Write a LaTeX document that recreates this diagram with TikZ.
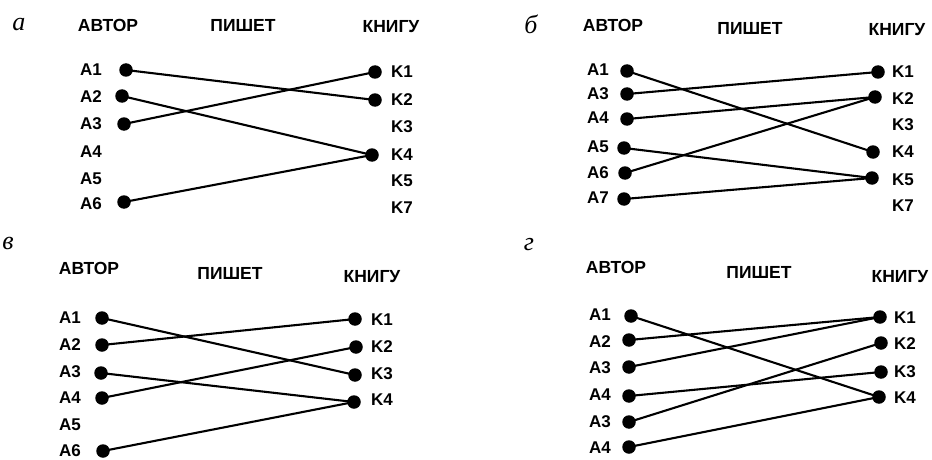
\documentclass[tikz,border=0pt]{standalone}
\usepackage{fontspec}
\setmainfont{Liberation Sans}
\newfontfamily\tms{Liberation Serif}
\begin{document}
\begin{tikzpicture}[x=1pt,y=-1pt,
  dot/.style={circle,fill=black,inner sep=0pt,minimum size=13.5pt},
  link/.style={line width=2.1pt},
  lbl/.style={font=\fontsize{17}{17}\selectfont\bfseries,inner sep=0pt},
  hdr/.style={font=\fontsize{17.5}{17.5}\selectfont\bfseries,inner sep=0pt},
  tag/.style={font=\fontsize{26}{26}\selectfont\tms\itshape,inner sep=0pt}]
\useasboundingbox (0,0) rectangle (932,460);
% ---------- panel a ----------
\node[tag] (ta) at (19,25) {а};
\node[hdr] (ha1) at (108,25) {АВТОР};
\node[hdr] (ha2) at (243,25) {ПИШЕТ};
\node[hdr] (ha3) at (391,27) {КНИГУ};
\node[lbl] (laa1) at (91,70) {A1};
\node[lbl] (laa2) at (91,97) {A2};
\node[lbl] (laa3) at (91,124) {A3};
\node[lbl] (laa4) at (91,152) {A4};
\node[lbl] (laa5) at (91,179) {A5};
\node[lbl] (laa6) at (91,204) {A6};
\node[lbl] (lak1) at (402,72) {K1};
\node[lbl] (lak2) at (402,100) {K2};
\node[lbl] (lak3) at (402,127) {K3};
\node[lbl] (lak4) at (402,155) {K4};
\node[lbl] (lak5) at (402,181) {K5};
\node[lbl] (lak7) at (402,208) {K7};
\node[dot] (aa1) at (126,70) {};
\node[dot] (aa2) at (122,96) {};
\node[dot] (aa3) at (124,124) {};
\node[dot] (aa6) at (124,202) {};
\node[dot] (ak1) at (375,72) {};
\node[dot] (ak2) at (375,100) {};
\node[dot] (ak4) at (372,155) {};
\draw[link] (aa1.center) -- (ak2.center);
\draw[link] (aa2.center) -- (ak4.center);
\draw[link] (aa3.center) -- (ak1.center);
\draw[link] (aa6.center) -- (ak4.center);
% ---------- panel b ----------
\node[tag] (tb) at (531,24) {б};
\node[hdr] (hb1) at (613,25) {АВТОР};
\node[hdr] (hb2) at (750,28) {ПИШЕТ};
\node[hdr] (hb3) at (897,30) {КНИГУ};
\node[lbl] (lba1) at (598,70) {A1};
\node[lbl] (lba3) at (598,94) {A3};
\node[lbl] (lba4) at (598,118) {A4};
\node[lbl] (lba5) at (598,147) {A5};
\node[lbl] (lba6) at (598,173) {A6};
\node[lbl] (lba7) at (598,198) {A7};
\node[lbl] (lbk1) at (903,72) {K1};
\node[lbl] (lbk2) at (903,99) {K2};
\node[lbl] (lbk3) at (903,125) {K3};
\node[lbl] (lbk4) at (903,152) {K4};
\node[lbl] (lbk5) at (903,180) {K5};
\node[lbl] (lbk7) at (903,206) {K7};
\node[dot] (ba1) at (627,71) {};
\node[dot] (ba3) at (627,94) {};
\node[dot] (ba4) at (627,119) {};
\node[dot] (ba5) at (624,148) {};
\node[dot] (ba6) at (625,173) {};
\node[dot] (ba7) at (624,199) {};
\node[dot] (bk1) at (878,72) {};
\node[dot] (bk2) at (875,97) {};
\node[dot] (bk4) at (873,152) {};
\node[dot] (bk5) at (872,178) {};
\draw[link] (ba1.center) -- (bk4.center);
\draw[link] (ba3.center) -- (bk1.center);
\draw[link] (ba4.center) -- (bk2.center);
\draw[link] (ba5.center) -- (bk5.center);
\draw[link] (ba6.center) -- (bk2.center);
\draw[link] (ba7.center) -- (bk5.center);
% ---------- panel v ----------
\node[tag] (tc) at (8,243) {в};
\node[hdr] (hc1) at (89,268) {АВТОР};
\node[hdr] (hc2) at (230,273) {ПИШЕТ};
\node[hdr] (hc3) at (372,277) {КНИГУ};
\node[lbl] (lca1) at (70,318) {A1};
\node[lbl] (lca2) at (70,345) {A2};
\node[lbl] (lca3) at (70,372) {A3};
\node[lbl] (lca4) at (70,398) {A4};
\node[lbl] (lca5) at (70,425) {A5};
\node[lbl] (lca6) at (70,451) {A6};
\node[lbl] (lck1) at (382,320) {K1};
\node[lbl] (lck2) at (382,347) {K2};
\node[lbl] (lck3) at (382,374) {K3};
\node[lbl] (lck4) at (382,400) {K4};
\node[dot] (ca1) at (102,318) {};
\node[dot] (ca2) at (102,345) {};
\node[dot] (ca3) at (101,373) {};
\node[dot] (ca4) at (102,398) {};
\node[dot] (ca6) at (103,451) {};
\node[dot] (ck1) at (355,319) {};
\node[dot] (ck2) at (356,347) {};
\node[dot] (ck3) at (355,375) {};
\node[dot] (ck4) at (354,402) {};
\draw[link] (ca1.center) -- (ck3.center);
\draw[link] (ca2.center) -- (ck1.center);
\draw[link] (ca3.center) -- (ck4.center);
\draw[link] (ca4.center) -- (ck2.center);
\draw[link] (ca6.center) -- (ck4.center);
% ---------- panel g ----------
\node[tag] (td) at (529,245) {г};
\node[hdr] (hd1) at (616,267) {АВТОР};
\node[hdr] (hd2) at (759,272) {ПИШЕТ};
\node[hdr] (hd3) at (900,277) {КНИГУ};
\node[lbl] (lda1) at (600,315) {A1};
\node[lbl] (lda2) at (600,342) {A2};
\node[lbl] (lda3) at (600,368) {A3};
\node[lbl] (lda4) at (600,395) {A4};
\node[lbl] (lda5) at (600,422) {A3};
\node[lbl] (lda6) at (600,448) {A4};
\node[lbl] (ldk1) at (905,318) {K1};
\node[lbl] (ldk2) at (905,344) {K2};
\node[lbl] (ldk3) at (905,372) {K3};
\node[lbl] (ldk4) at (905,398) {K4};
\node[dot] (da1) at (631,316) {};
\node[dot] (da2) at (629,340) {};
\node[dot] (da3) at (629,367) {};
\node[dot] (da4) at (629,396) {};
\node[dot] (da5) at (629,422) {};
\node[dot] (da6) at (629,447) {};
\node[dot] (dk1) at (880,317) {};
\node[dot] (dk2) at (881,343) {};
\node[dot] (dk3) at (881,372) {};
\node[dot] (dk4) at (879,397) {};
\draw[link] (da1.center) -- (dk4.center);
\draw[link] (da2.center) -- (dk1.center);
\draw[link] (da3.center) -- (dk1.center);
\draw[link] (da4.center) -- (dk3.center);
\draw[link] (da5.center) -- (dk2.center);
\draw[link] (da6.center) -- (dk4.center);
\end{tikzpicture}
\end{document}
